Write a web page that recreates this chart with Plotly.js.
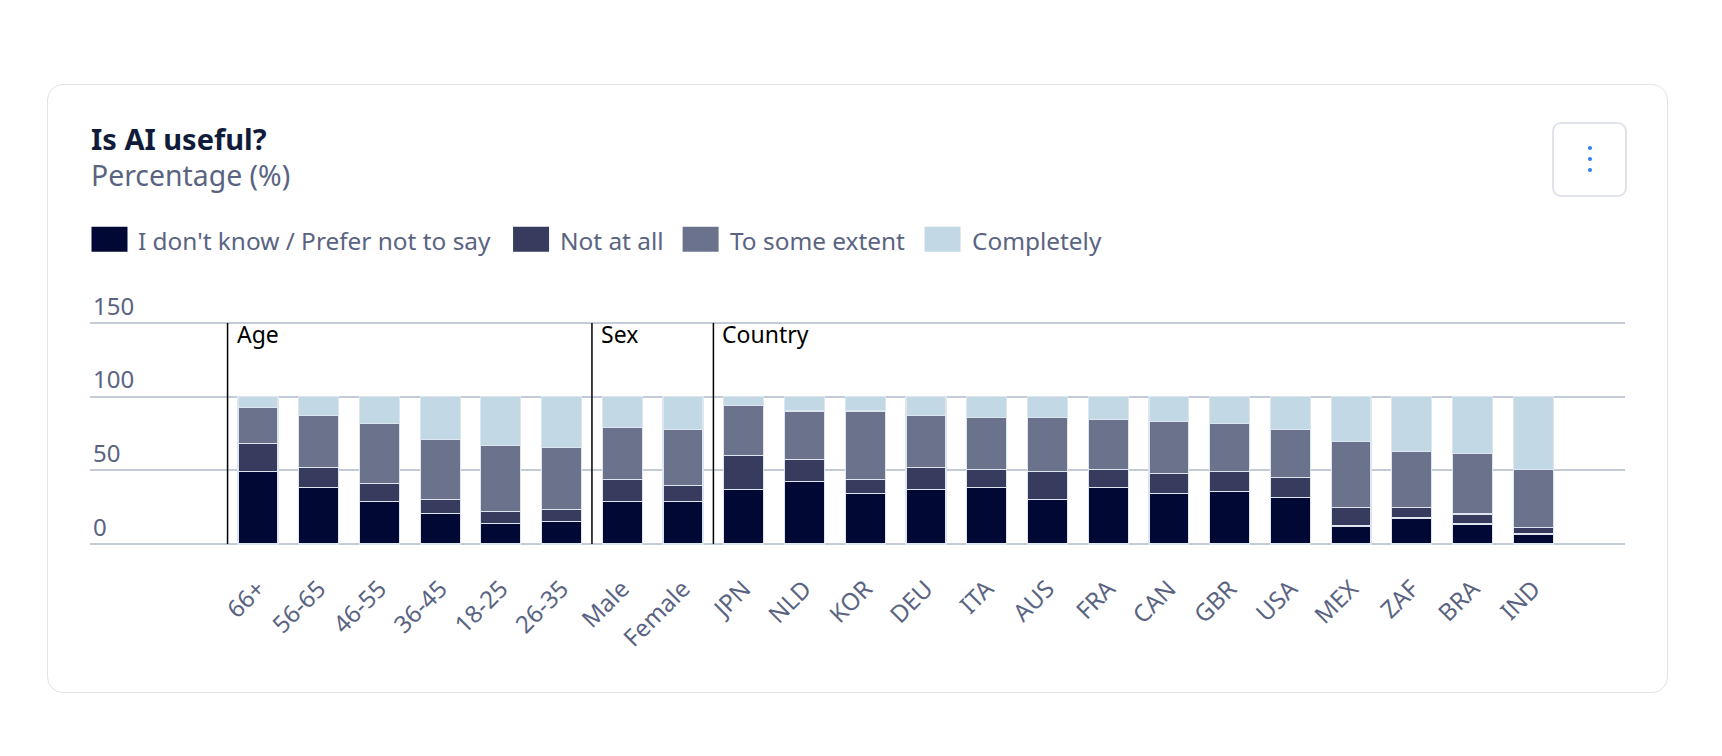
<!DOCTYPE html>
<html>
<head>
<meta charset="utf-8">
<script src="https://cdn.plot.ly/plotly-3.0.1.min.js"></script>
<style>
  html, body { margin: 0; padding: 0; background: #ffffff; }
  #wrap { position: relative; width: 1722px; height: 756px; overflow: hidden; }
  #card { position: absolute; left: 47px; top: 84px; width: 1619px; height: 607px;
          border: 1.5px solid #dfe3ea; border-radius: 16px; background: #fff; }
  #menu { position: absolute; left: 1552px; top: 122px; width: 71px; height: 71px;
          border: 2px solid #e0e4ea; border-radius: 9px; background: #fff; }
  #menu span { position: absolute; left: 33.5px; width: 4px; height: 4px; border-radius: 50%; background: #2f7df6; }
  #chart { position: absolute; left: 0; top: 0; width: 1722px; height: 756px; }
</style>
</head>
<body>
<div id="wrap">
  <div id="card"></div>
  <div id="menu"><span style="top:22px"></span><span style="top:33px"></span><span style="top:44px"></span></div>
  <div id="chart"></div>
</div>
<script>
// ---- data ----
const categories = ['66+','56-65','46-55','36-45','18-25','26-35','Male','Female',
  'JPN','NLD','KOR','DEU','ITA','AUS','FRA','CAN','GBR','USA','MEX','ZAF','BRA','IND'];
const groupNames = ['Age', 'Sex', 'Country'];
const groupSizes = [6, 2, 14];
const seriesNames = ['I don\'t know / Prefer not to say', 'Not at all', 'To some extent', 'Completely'];
const dontKnow  = [49.4, 38.5, 29.0, 20.8, 14.0, 15.4, 29.0, 29.0, 37.2, 42.6, 34.4, 37.2, 38.5, 30.4, 38.5, 34.4, 35.8, 31.7, 12.2, 17.7, 13.6, 6.8];
const notAtAll  = [19.0, 13.6, 12.2,  9.6,  8.2,  8.2, 15.0, 10.9, 23.1, 14.9,  9.6, 14.9, 12.2, 19.0, 12.2, 13.6, 13.6, 13.6, 12.8,  7.3,  6.8, 4.5];
const someExtent= [24.5, 35.3, 40.8, 40.7, 44.9, 42.1, 35.3, 38.0, 33.9, 32.7, 46.2, 35.3, 35.4, 36.7, 34.0, 35.4, 32.6, 32.6, 44.8, 38.0, 41.2, 39.4];
const completely= [ 7.1, 12.6, 18.0, 28.9, 32.9, 34.3, 20.7, 22.1,  5.8,  9.8,  9.8, 12.6, 13.9, 13.9, 15.3, 16.6, 18.0, 22.1, 30.2, 37.0, 38.4, 49.3];
const seriesValues = [dontKnow, notAtAll, someExtent, completely];
const yTickVals = [0, 50, 100, 150];

// ---- styles ----
const colors = ['#000833', '#373b5e', '#6b738c', '#c3d8e5'];
const FONT = 'Noto Sans, sans-serif';
const TEXT = '#5a6482';
const W = 1722, H = 756;
const M = {l: 89.5, r: 97, t: 320.4, b: 209.1};
const plotW = W - M.l - M.r, plotH = H - M.t - M.b;
const px = x => (x - M.l) / plotW;
const py = y => (H - M.b - y) / plotH;

const traces = seriesValues.map((vals, i) => ({
  type: 'bar',
  name: seriesNames[i],
  x: categories,
  y: vals,
  marker: {color: colors[i], line: {color: '#dde5ee', width: 1.2}},
  showlegend: false,
  hoverinfo: 'x+y+name'
}));

const shapes = [];
const annotations = [];

// group separators and labels
let start = 0;
groupNames.forEach((g, i) => {
  shapes.push({type: 'line', xref: 'x', yref: 'y', x0: start - 0.5, x1: start - 0.5, y0: 0, y1: 150,
    line: {color: '#000000', width: 1.5}});
  annotations.push({xref: 'x', yref: 'y', x: start - 0.5, y: 150, xanchor: 'left', yanchor: 'middle',
    xshift: 8, yshift: -11, text: g, showarrow: false, borderpad: 0,
    font: {family: FONT, size: 23, color: '#000000'}});
  start += groupSizes[i];
});

// title / subtitle
annotations.push({xref: 'paper', yref: 'paper', x: px(89), y: py(139), xanchor: 'left', yanchor: 'middle',
  text: '<b>Is AI useful?</b>', showarrow: false, borderpad: 0,
  font: {family: FONT, size: 29, color: '#111c3a'}});
annotations.push({xref: 'paper', yref: 'paper', x: px(89), y: py(176), xanchor: 'left', yanchor: 'middle',
  text: 'Percentage (%)', showarrow: false, borderpad: 0,
  font: {family: FONT, size: 28.4, color: TEXT}});

// custom legend
const legendSquareX = [91, 512.7, 682.3, 924.3];
seriesNames.forEach((n, i) => {
  const x0 = legendSquareX[i];
  shapes.push({type: 'rect', xref: 'paper', yref: 'paper', x0: px(x0), x1: px(x0 + 36),
    y0: py(252.3), y1: py(227.3), fillcolor: colors[i], line: {width: 0}});
  annotations.push({xref: 'paper', yref: 'paper', x: px(x0 + 46), y: py(241), xanchor: 'left', yanchor: 'middle',
    text: n, showarrow: false, borderpad: 0, font: {family: FONT, size: 24.4, color: TEXT}});
});

const layout = {
  width: W, height: H, autosize: false,
  margin: M,
  paper_bgcolor: 'rgba(0,0,0,0)', plot_bgcolor: 'rgba(0,0,0,0)',
  barmode: 'stack', bargap: 0.342,
  font: {family: FONT, color: TEXT},
  showlegend: false,
  xaxis: {type: 'category', categoryorder: 'array', categoryarray: categories,
    range: [-2.765, 22.51], tickangle: -45, showgrid: false, zeroline: false, showline: false,
    ticks: '', ticklabelstandoff: 22, tickfont: {family: FONT, size: 24, color: TEXT}, fixedrange: true},
  yaxis: {range: [-2, 152], tickvals: yTickVals, ticktext: yTickVals.map(String),
    showgrid: true, gridcolor: '#c3cbd7', gridwidth: 1.5, zeroline: false, showline: false,
    ticks: '', ticklabelposition: 'inside top', ticklabeloverflow: 'allow',
    tickfont: {family: FONT, size: 24, color: TEXT}, fixedrange: true},
  shapes: shapes,
  annotations: annotations
};

Plotly.newPlot('chart', traces, layout, {displayModeBar: false});
</script>
</body>
</html>
